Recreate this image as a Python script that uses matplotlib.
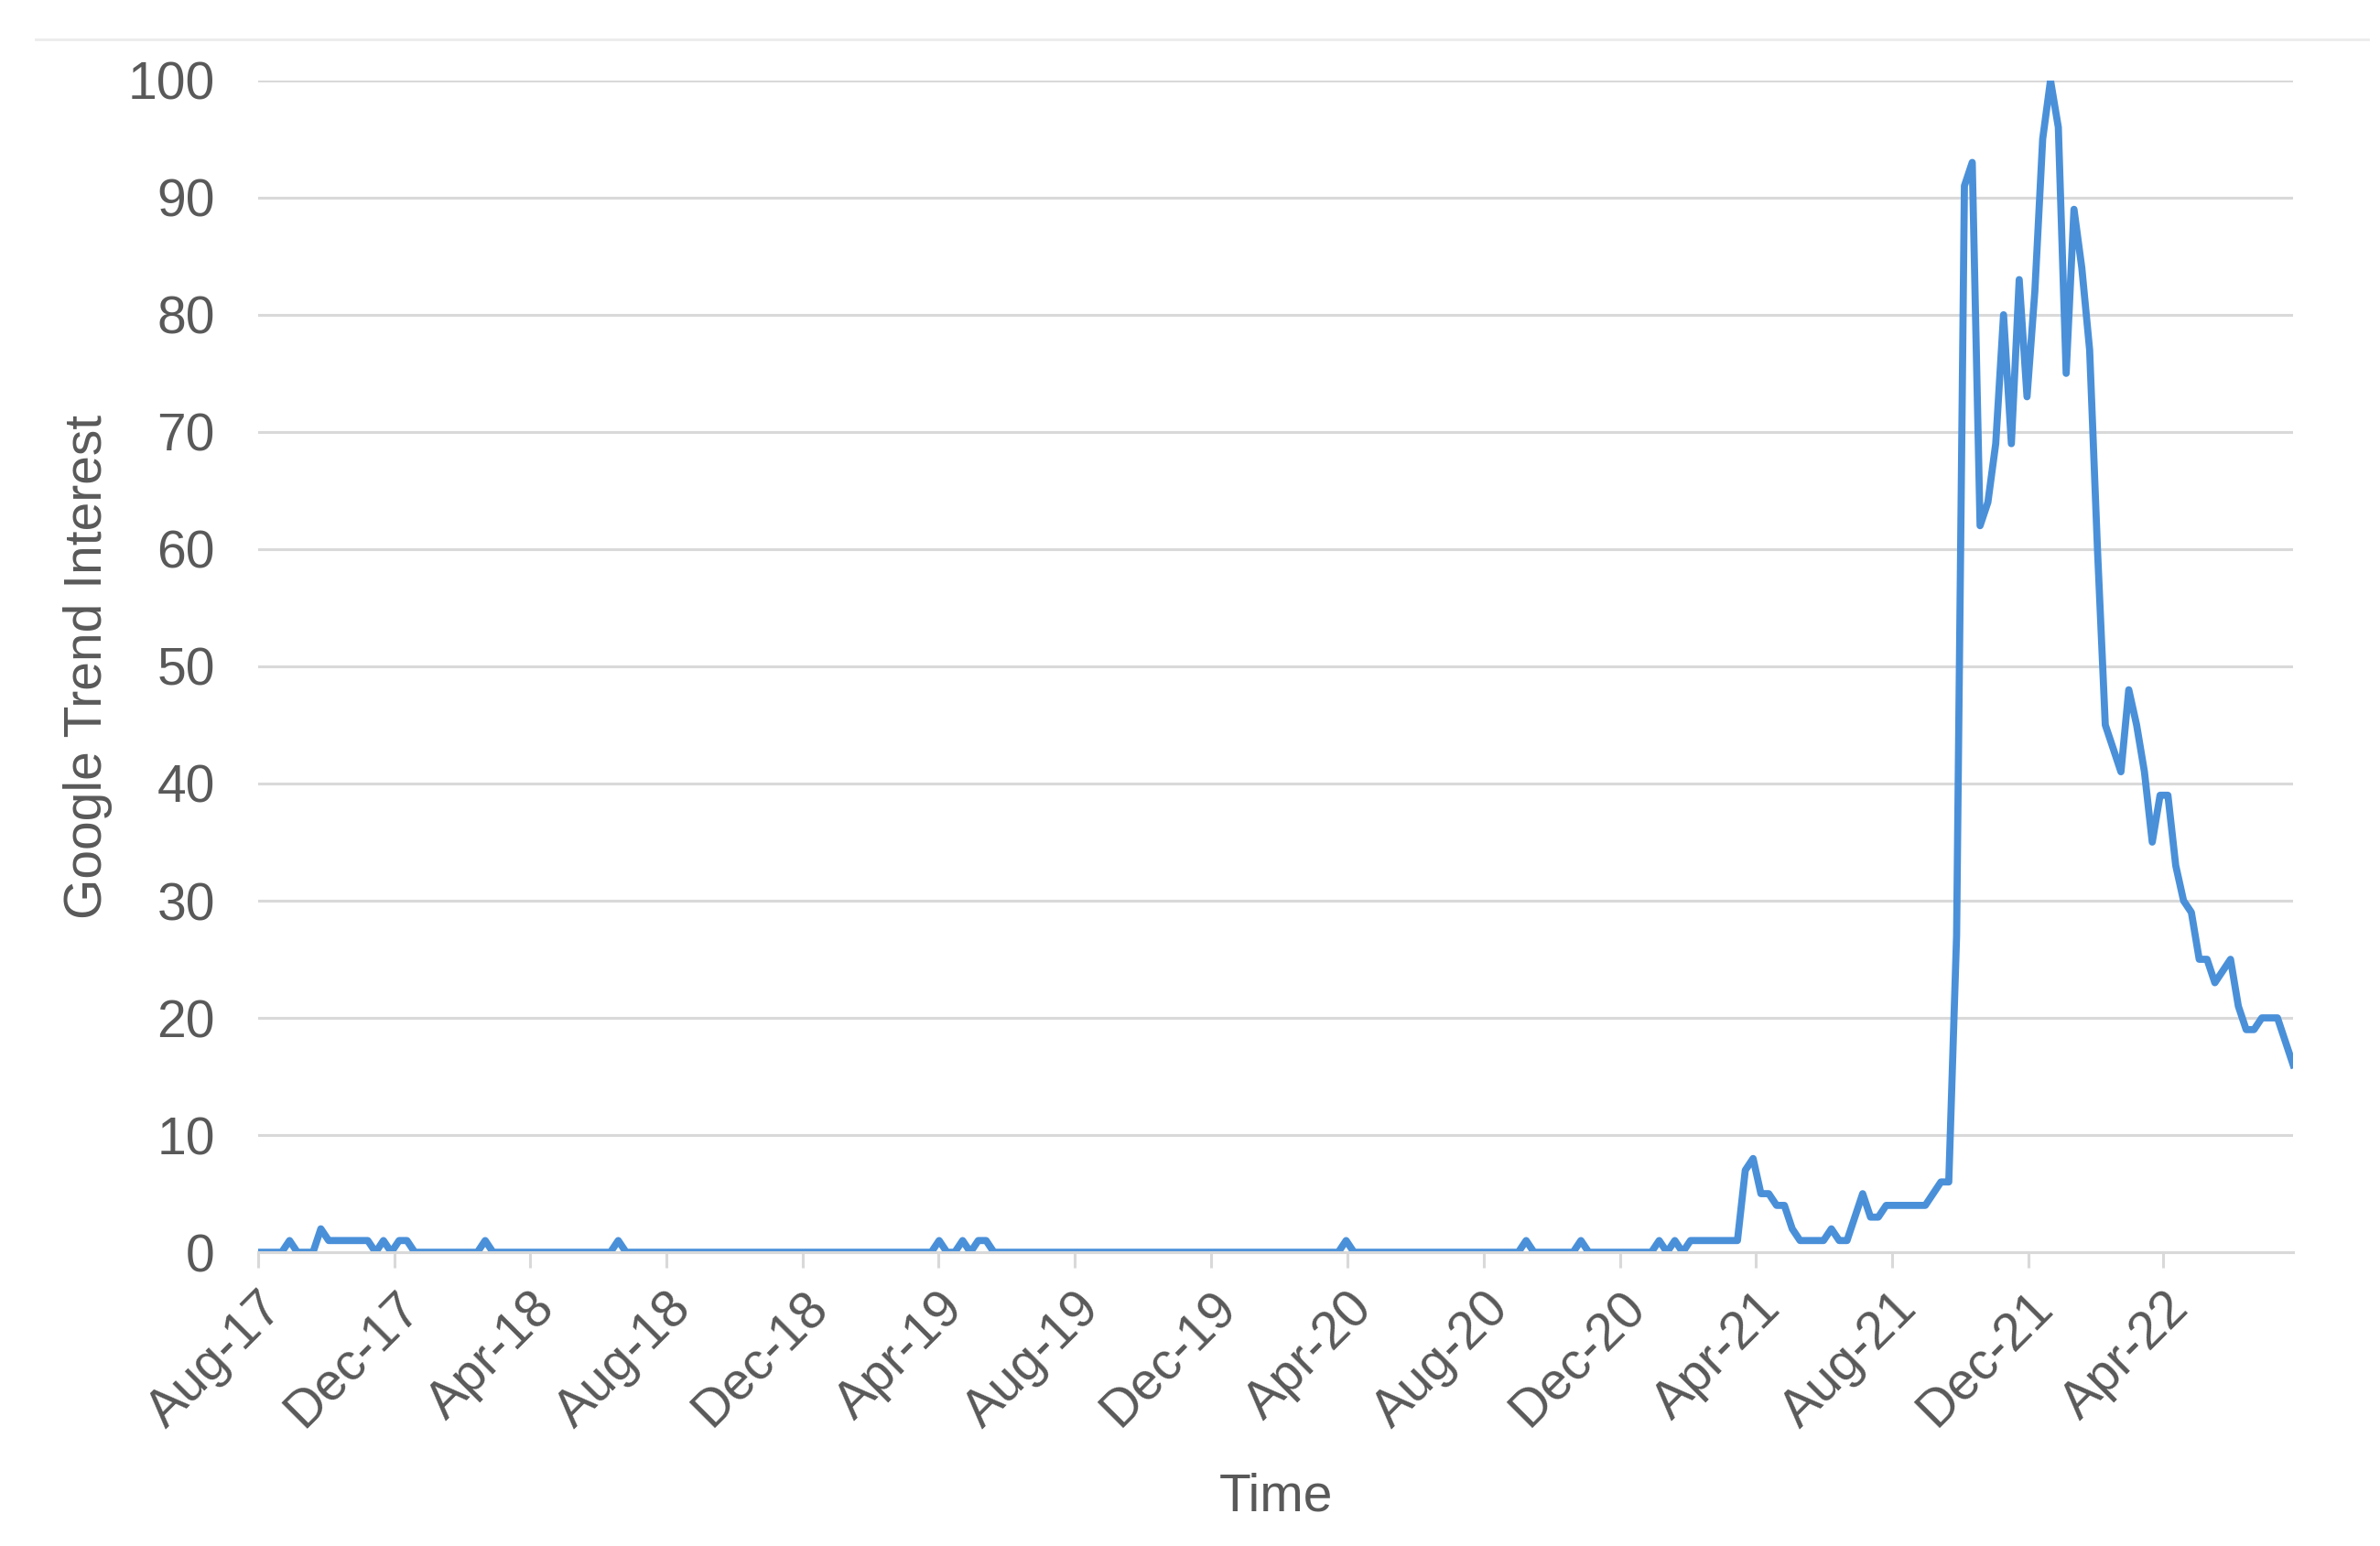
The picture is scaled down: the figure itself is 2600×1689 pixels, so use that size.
import pandas as pd
import matplotlib
matplotlib.use('Agg')
import matplotlib.pyplot as plt
from matplotlib.lines import Line2D

# weekly Google Trends interest, Aug 2017 - Jul 2022
start = '2017-08-06'
interest = [
    0, 0, 0, 0, 1, 0, 0, 0, 2, 1, 1, 1, 1, 1, 1, 0, 1, 0, 1, 1,
    0, 0, 0, 0, 0, 0, 0, 0, 0, 1, 0, 0, 0, 0, 0, 0, 0, 0, 0, 0,
    0, 0, 0, 0, 0, 0, 1, 0, 0, 0, 0, 0, 0, 0, 0, 0, 0, 0, 0, 0,
    0, 0, 0, 0, 0, 0, 0, 0, 0, 0, 0, 0, 0, 0, 0, 0, 0, 0, 0, 0,
    0, 0, 0, 0, 0, 0, 0, 1, 0, 0, 1, 0, 1, 1, 0, 0, 0, 0, 0, 0,
    0, 0, 0, 0, 0, 0, 0, 0, 0, 0, 0, 0, 0, 0, 0, 0, 0, 0, 0, 0,
    0, 0, 0, 0, 0, 0, 0, 0, 0, 0, 0, 0, 0, 0, 0, 0, 0, 0, 0, 1,
    0, 0, 0, 0, 0, 0, 0, 0, 0, 0, 0, 0, 0, 0, 0, 0, 0, 0, 0, 0,
    0, 0, 1, 0, 0, 0, 0, 0, 0, 1, 0, 0, 0, 0, 0, 0, 0, 0, 0, 1,
    0, 1, 0, 1, 1, 1, 1, 1, 1, 1, 7, 8, 5, 5, 4, 4, 2, 1, 1, 1,
    1, 2, 1, 1, 3, 5, 3, 3, 4, 4, 4, 4, 4, 4, 5, 6, 6, 27, 91, 93,
    62, 64, 69, 80, 69, 83, 73, 82, 95, 100, 96, 75, 89, 84, 77, 60, 45, 43, 41, 48,
    45, 41, 35, 39, 39, 33, 30, 29, 25, 25, 23, 24, 25, 21, 19, 19, 20, 20, 20, 18, 16,
]
dates = pd.date_range(start, periods=len(interest), freq='W-SUN')
tick_dates = [dates[0] + pd.DateOffset(months=4 * k) for k in range(15)]
tick_labels = [d.strftime('%b-%y') for d in tick_dates]
y_ticks = list(range(0, 101, 10))

plt.rcParams['font.family'] = ['Liberation Sans', 'DejaVu Sans']
grey = '#595959'
grid = '#d9d9d9'

fig = plt.figure(figsize=(13, 8.445), dpi=200)
ax = fig.add_axes([0.1085, 0.19, 0.855, 0.758])

ax.plot(dates, interest, color='#4a90d9', lw=2.8, solid_joinstyle='round')

ax.set_xlim(dates[0], dates[-1])
ax.set_ylim(0, 100)
ax.set_yticks(y_ticks)
ax.set_xticks(tick_dates)
ax.set_xticklabels(tick_labels, rotation=45, ha='right', rotation_mode='anchor')

ax.grid(axis='y', color=grid, lw=1.1)
ax.set_axisbelow(True)
for s in ['top', 'right', 'left']:
    ax.spines[s].set_visible(False)
ax.spines['bottom'].set_color(grid)
ax.spines['bottom'].set_linewidth(1.1)
ax.tick_params(axis='y', length=0, pad=17, labelsize=20.5, labelcolor=grey)
ax.tick_params(axis='x', length=6, width=1.1, color=grid, pad=6, labelsize=20.5, labelcolor=grey)

ax.set_ylabel('Google Trend Interest', fontsize=20.5, color=grey, labelpad=6)
ax.set_xlabel('Time', fontsize=20.5, color=grey, labelpad=14)

# thin frame line at top of the chart area
fig.add_artist(Line2D([0.015, 0.995], [0.9745, 0.9745], color='#ebebeb', lw=1.0))

fig.savefig('out.png', dpi=200, facecolor='white')
